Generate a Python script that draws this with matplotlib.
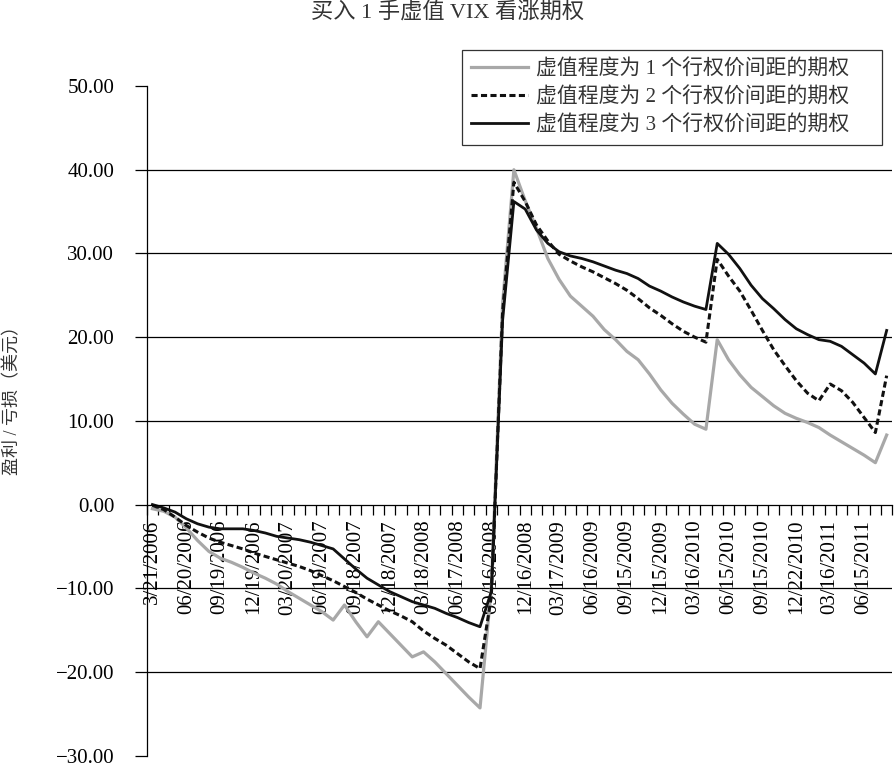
import matplotlib.pyplot as plt
from matplotlib.ticker import FixedLocator, FuncFormatter

# 数据：每月一个点（2006/03 - 2011/08）
otm1 = [-0.5, -0.8, -1.5, -2.8, -4.3, -5.6, -6.4, -6.9, -7.5, -8.2,
        -8.8, -9.5, -10.4, -11.2, -12.0, -12.8, -13.8, -12.0, -14.0, -15.8,
        -14.0, -15.4, -16.8, -18.2, -17.6, -18.8, -20.2, -21.6, -23.0, -24.3,
        -10.0, 24.0, 40.0, 36.3, 33.0, 29.4, 26.9, 24.9, 23.7, 22.5,
        20.9, 19.7, 18.3, 17.3, 15.6, 13.7, 12.1, 10.8, 9.6, 9.0,
        19.7, 17.3, 15.5, 14.0, 12.9, 11.8, 10.9, 10.3, 9.8, 9.2,
        8.3, 7.5, 6.7, 5.9, 5.0, 8.3]
otm2 = [-0.1, -0.6, -1.5, -2.5, -3.3, -4.0, -4.5, -4.9, -5.3, -5.8,
        -6.2, -6.6, -7.0, -7.4, -7.9, -8.5, -9.1, -9.8, -10.5, -11.3,
        -12.0, -12.7, -13.3, -14.0, -15.1, -16.0, -16.8, -17.8, -18.8, -19.6,
        -11.0, 23.0, 38.5, 36.2, 33.4, 31.5, 29.9, 29.1, 28.4, 27.8,
        27.1, 26.4, 25.6, 24.6, 23.5, 22.6, 21.6, 20.7, 20.0, 19.4,
        29.3, 27.3, 25.5, 23.2, 20.8, 18.5, 16.6, 14.8, 13.3, 12.4,
        14.4, 13.6, 12.2, 10.4, 8.6, 15.4]
otm3 = [0.0, -0.4, -0.9, -1.7, -2.3, -2.7, -2.9, -2.9, -2.9, -3.1,
        -3.4, -3.8, -4.0, -4.2, -4.5, -4.9, -5.3, -6.5, -7.7, -8.8,
        -9.6, -10.4, -11.0, -11.6, -12.0, -12.4, -13.0, -13.5, -14.1, -14.6,
        -10.4, 22.0, 36.2, 35.3, 32.8, 31.2, 30.2, 29.7, 29.4, 29.0,
        28.5, 28.0, 27.6, 27.0, 26.1, 25.5, 24.8, 24.2, 23.7, 23.3,
        31.2, 29.9, 28.2, 26.2, 24.6, 23.4, 22.1, 21.0, 20.3, 19.7,
        19.5, 18.9, 17.9, 16.9, 15.6, 20.8]

date_labels = ["3/21/2006", "06/20/2006", "09/19/2006", "12/19/2006",
               "03/20/2007", "06/19/2007", "09/18/2007", "12/18/2007",
               "03/18/2008", "06/17/2008", "09/16/2008", "12/16/2008",
               "03/17/2009", "06/16/2009", "09/15/2009", "12/15/2009",
               "03/16/2010", "06/15/2010", "09/15/2010", "12/22/2010",
               "03/16/2011", "06/15/2011"]

series_names = ["虚值程度为 1 个行权价间距的期权",
                "虚值程度为 2 个行权价间距的期权",
                "虚值程度为 3 个行权价间距的期权"]

plt.rcParams['font.family'] = ['Liberation Serif', 'Noto Sans CJK SC']

fig = plt.figure(figsize=(8.95, 7.66), dpi=100)
ax = fig.add_axes([0.164, 0.0135, 0.833, 0.8742])

x = list(range(len(otm1)))
ax.plot(x, otm1, color='#a8a8a8', lw=2.3, label=series_names[0])
ax.plot(x, otm2, color='#111111', lw=2.2, linestyle=(0, (2, 1.1)), label=series_names[1])
ax.plot(x, otm3, color='#111111', lw=2.0, label=series_names[2])

ax.set_xlim(-0.5, len(otm1) - 0.5)
ax.set_ylim(-30, 50)

# y 轴
ax.set_yticks(range(-30, 51, 10))
ax.yaxis.set_major_formatter(FuncFormatter(lambda v, p: f"{v:.2f}".replace('-', '−')))
ax.tick_params(axis='y', direction='out', length=8.5, width=0.9, pad=15,
               labelsize=15, color='black')
ax.grid(axis='y', color='black', lw=0.9)
for val, gl in zip(range(-30, 51, 10), ax.get_ygridlines()):
    if val in (-30, 0, 50):
        gl.set_visible(False)

# x 轴在 0 处，刻度在类别之间
ax.spines['bottom'].set_position(('data', 0))
ax.spines['bottom'].set_linewidth(0.9)
ax.spines['left'].set_linewidth(0.9)
ax.spines['top'].set_visible(False)
ax.spines['right'].set_visible(False)
ax.xaxis.set_major_locator(FixedLocator([i - 0.5 for i in range(len(otm1) + 1)]))
ax.xaxis.set_major_formatter(FuncFormatter(lambda v, p: ""))
ax.xaxis.set_minor_locator(FixedLocator(list(range(0, 3 * len(date_labels), 3))))
ax.set_xticklabels(date_labels, minor=True, rotation=90, fontsize=15)
ax.tick_params(axis='x', which='major', direction='out', length=7, width=0.9)
ax.tick_params(axis='x', which='minor', length=0, pad=11)

fig.text(0.014, 1 - 396 / 766, "盈利 / 亏损（美元）", rotation=90,
         ha='center', va='center', fontsize=13, color='#333333')
fig.text(0.5, 1 - 13 / 766, "买入 1 手虚值 VIX 看涨期权", ha='center', va='center',
         fontsize=16, color='#333333')

# 图例框：左 462，右 882，上 50，下 146（像素）
leg = ax.legend(loc='upper left', mode='expand',
                bbox_to_anchor=(462 / 895, 1 - 146 / 766, 420 / 895, 96 / 766),
                bbox_transform=fig.transFigure, fontsize=15, frameon=True,
                fancybox=False, borderaxespad=0, handlelength=2.7,
                labelspacing=0.38, borderpad=0.45, handletextpad=0.4)
leg.get_frame().set_edgecolor('black')
leg.get_frame().set_linewidth(0.9)
for t in leg.get_texts():
    t.set_color('#333333')

fig.savefig("out.png", dpi=100)
